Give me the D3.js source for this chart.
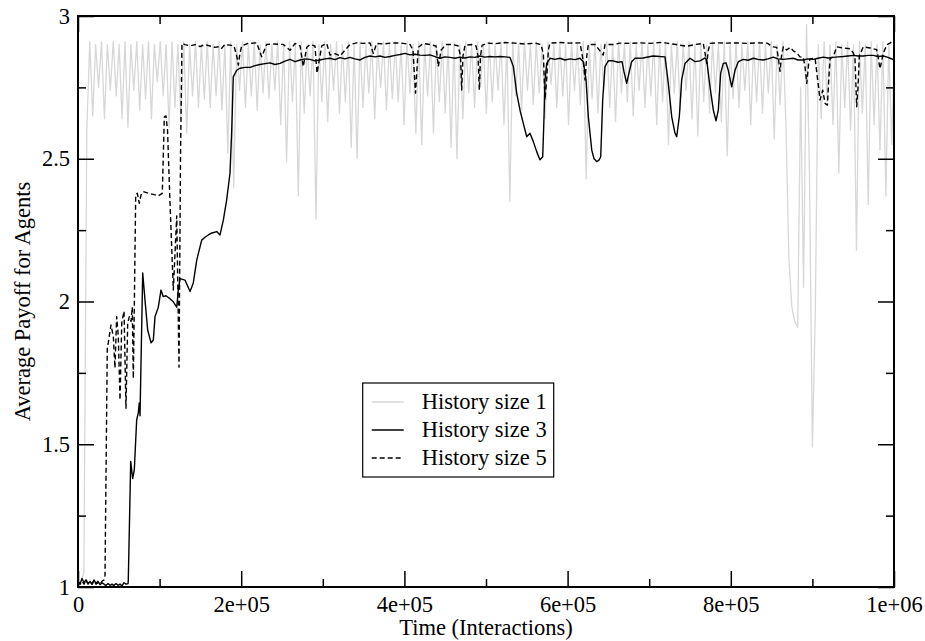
<!DOCTYPE html>
<html>
<head>
<meta charset="utf-8">
<script src="https://cdn.jsdelivr.net/npm/d3@7"></script>
<style>
  body { margin: 0; background: white; }
  text { font-family: "Liberation Serif", "Times New Roman", serif; fill: black; }
</style>
</head>
<body>
<svg width="925" height="641"></svg>
<script>
// history size 1: sampled every 3600 interactions
const h1Step = 3600;
const h1Payoff = [
  1.0, 1.02, 1.05, 2.6, 2.91, 2.65, 2.9, 2.75, 2.91, 2.64,
  2.9, 2.74, 2.91, 2.72, 2.9, 2.64, 2.91, 2.61, 2.9, 2.74,
  2.91, 2.67, 2.9, 2.71, 2.91, 2.64, 2.9, 2.77, 2.91, 2.72,
  2.9, 2.61, 2.91, 2.68, 2.9, 2.64, 2.91, 2.59, 2.9, 2.72,
  2.91, 2.68, 2.9, 2.71, 2.91, 2.68, 2.9, 2.72, 2.91, 2.67,
  2.9, 2.52, 2.91, 2.40, 2.9, 2.74, 2.91, 2.68, 2.9, 2.72,
  2.91, 2.67, 2.9, 2.73, 2.91, 2.71, 2.9, 2.74, 2.91, 2.62,
  2.9, 2.49, 2.91, 2.7, 2.9, 2.37, 2.91, 2.66, 2.9, 2.72,
  2.91, 2.29, 2.9, 2.7, 2.91, 2.63, 2.9, 2.74, 2.91, 2.66,
  2.9, 2.7, 2.91, 2.54, 2.9, 2.5, 2.91, 2.68, 2.9, 2.73,
  2.91, 2.64, 2.9, 2.75, 2.91, 2.67, 2.9, 2.71, 2.91, 2.7,
  2.9, 2.62, 2.91, 2.73, 2.9, 2.59, 2.91, 2.55, 2.9, 2.72,
  2.91, 2.59, 2.9, 2.7, 2.91, 2.66, 2.9, 2.54, 2.91, 2.5,
  2.9, 2.64, 2.91, 2.73, 2.9, 2.68, 2.91, 2.75, 2.9, 2.66,
  2.91, 2.7, 2.9, 2.74, 2.91, 2.62, 2.9, 2.35, 2.91, 2.72,
  2.9, 2.67, 2.91, 2.74, 2.9, 2.69, 2.91, 2.73, 2.9, 2.64,
  2.91, 2.76, 2.9, 2.68, 2.91, 2.72, 2.9, 2.62, 2.91, 2.74,
  2.9, 2.69, 2.91, 2.43, 2.9, 2.71, 2.91, 2.66, 2.9, 2.74,
  2.91, 2.68, 2.9, 2.63, 2.91, 2.73, 2.9, 2.7, 2.91, 2.65,
  2.9, 2.74, 2.91, 2.68, 2.9, 2.72, 2.91, 2.62, 2.9, 2.7,
  2.91, 2.55, 2.9, 2.73, 2.91, 2.67, 2.9, 2.74, 2.91, 2.64,
  2.9, 2.58, 2.91, 2.7, 2.9, 2.66, 2.91, 2.73, 2.9, 2.63,
  2.91, 2.51, 2.9, 2.71, 2.91, 2.68, 2.9, 2.74, 2.91, 2.62,
  2.9, 2.7, 2.91, 2.66, 2.9, 2.73, 2.91, 2.57, 2.9, 2.69,
  2.91, 2.62, 2.15, 1.98, 1.93, 1.91, 2.75, 2.05, 2.97, 2.45,
  1.49, 1.97, 2.9, 2.64, 2.91, 2.7, 2.9, 2.62, 2.91, 2.45,
  2.9, 2.68, 2.91, 2.6, 2.9, 2.18, 2.91, 2.66, 2.9, 2.34,
  2.91, 2.62, 2.9, 2.53, 2.91, 2.37, 2.9, 2.55, 2.91
];

// history size 3: [time in thousands of interactions, payoff]
const h3 = [
  [0,1.02],[2.5,1.01],[4.9,1.03],[7.4,1.015],[9.8,1.025],[12.3,1.01],[14.7,1.02],[17.2,1.01],[19.6,1.025],[22.1,1.012],
  [24.5,1.02],[27,1.008],[29.4,1.015],[31.9,1.01],[34.3,1.005],[36.8,1.012],[39.2,1.006],[41.7,1.01],[44.1,1.005],[46.6,1.012],
  [49,1.006],[51.5,1.01],[53.9,1.004],[56.4,1.015],[58.8,1.01],[61.3,1.012],[61.6,1.02],[64.6,1.44],[67,1.38],[69,1.41],
  [71.9,1.585],[73.9,1.61],[75.1,1.645],[76,1.6],[79.3,2.1],[82.1,2.005],[85.4,1.9],[89.5,1.855],[92.3,1.865],[94.4,1.947],
  [98.4,1.98],[101.7,2.04],[104.5,2.017],[107.8,2.02],[112.7,2.01],[116.8,1.999],[121,1.98],[122.9,2.04],[125,2.08],[131.1,2.075],
  [137.3,2.035],[141.3,2.065],[145.5,2.145],[151.6,2.215],[155.6,2.225],[159.7,2.233],[164.2,2.24],[170,2.245],[174,2.233],[178.1,2.285],
  [182.2,2.356],[186.3,2.45],[188.4,2.6],[190.3,2.787],[194.5,2.81],[198.5,2.817],[204.7,2.82],[210.8,2.82],[216.9,2.826],[223,2.83],
  [229.2,2.833],[235.3,2.836],[241.4,2.83],[247.6,2.834],[253.7,2.842],[259.8,2.848],[266,2.84],[272.1,2.846],[278.2,2.85],[284.3,2.848],
  [290.4,2.843],[296.6,2.846],[302.7,2.85],[308.8,2.852],[314.9,2.847],[321.1,2.854],[327.2,2.85],[333.3,2.855],[339.5,2.85],[345.6,2.846],
  [351.7,2.855],[357.8,2.86],[364,2.857],[370.1,2.86],[376.2,2.855],[382.4,2.858],[388.5,2.862],[394.6,2.865],[400.7,2.869],[406.9,2.864],
  [413,2.866],[419.1,2.863],[425.2,2.862],[431.4,2.864],[437.5,2.858],[443.6,2.852],[449.8,2.857],[455.9,2.855],[462,2.852],[468.1,2.856],
  [474.3,2.853],[480.4,2.857],[486.5,2.855],[492.7,2.86],[498.8,2.856],[504.9,2.858],[511,2.857],[517.2,2.858],[523.3,2.857],[529.4,2.855],
  [533.5,2.823],[537.6,2.73],[541.7,2.67],[545.7,2.624],[549.9,2.577],[553.9,2.589],[558,2.56],[562.1,2.525],[566.2,2.496],[569.5,2.507],
  [571.1,2.647],[572.3,2.776],[574.4,2.834],[578.4,2.852],[584.6,2.848],[590.7,2.852],[596.8,2.846],[602.9,2.85],[609.1,2.847],[615.2,2.852],
  [619.3,2.84],[622.6,2.776],[625.4,2.647],[629.6,2.53],[632.4,2.5],[635.7,2.49],[638.5,2.495],[640.6,2.507],[643,2.706],[645.8,2.823],
  [649.9,2.843],[655.6,2.843],[661.8,2.838],[666.7,2.84],[669.1,2.805],[672.4,2.764],[675.6,2.805],[678.5,2.84],[682.6,2.852],[692.4,2.853],
  [704.7,2.86],[713.2,2.858],[719.4,2.857],[723.4,2.764],[727.6,2.647],[731.6,2.59],[733.7,2.577],[736.9,2.647],[739.8,2.776],[743.9,2.834],
  [750,2.852],[756.1,2.84],[762.3,2.843],[768.4,2.853],[770.5,2.846],[774.5,2.752],[778.6,2.67],[781.9,2.633],[784.7,2.67],[787.6,2.8],
  [790.8,2.834],[794.1,2.836],[796.9,2.81],[801.1,2.752],[805.2,2.81],[809.2,2.84],[815.3,2.848],[821.1,2.845],[827.6,2.852],[833.3,2.848],
  [839.8,2.846],[845.6,2.85],[852.1,2.856],[857.9,2.85],[864.4,2.848],[870.1,2.85],[876.6,2.852],[882.4,2.846],[888.9,2.846],[894.6,2.85],
  [901.1,2.848],[906.9,2.852],[913.4,2.856],[919.1,2.853],[925.6,2.855],[931.4,2.857],[937.9,2.858],[943.6,2.86],[950.1,2.862],[955.9,2.86],
  [962.4,2.86],[968.1,2.862],[974.6,2.862],[980.4,2.858],[986.9,2.86],[992.6,2.855],[995.1,2.852],[1000,2.846]
];

// history size 5: [time in thousands of interactions, payoff]
const h5 = [
  [0,1.02],[2.5,1.01],[4.9,1.02],[7.4,1.01],[9.8,1.025],[12.3,1.012],[14.7,1.02],[17.2,1.01],[19.6,1.022],[22.1,1.01],
  [24.5,1.015],[27,1.01],[29.4,1.02],[31.9,1.025],[33.1,1.04],[35.9,1.84],[37.1,1.855],[40.4,1.918],[43.3,1.877],[45.3,1.767],
  [47.4,1.947],[49.4,1.877],[51.5,1.655],[53.6,1.925],[56.4,1.966],[58.8,1.626],[60.9,1.925],[62.9,1.947],[65,1.93],[66.5,1.98],
  [67.8,1.73],[69,1.98],[70.7,2.373],[72.7,2.379],[75.1,2.344],[77.2,2.373],[80,2.385],[86.2,2.379],[92.3,2.375],[98.4,2.37],
  [103.3,2.379],[105.8,2.647],[107.8,2.65],[109.7,2.6],[112.7,2.35],[116.8,2.04],[121,2.3],[123.8,1.77],[125.6,2.5],[127.4,2.904],
  [131.1,2.9],[137.3,2.895],[143.4,2.9],[149.5,2.893],[155.6,2.9],[161.8,2.895],[167.9,2.89],[174,2.893],[176.1,2.887],[180.1,2.9],
  [186.3,2.898],[191.2,2.895],[194.5,2.86],[196.5,2.828],[198.5,2.87],[200.6,2.895],[208.3,2.904],[219,2.906],[225.1,2.857],[231.2,2.9],
  [241.4,2.902],[251.6,2.9],[259.8,2.88],[266,2.904],[272.1,2.895],[276.1,2.823],[280.3,2.89],[284.3,2.9],[290.4,2.895],[292.9,2.8],
  [298.7,2.895],[304.8,2.904],[308.8,2.863],[314.9,2.868],[321.1,2.86],[327.2,2.88],[333.3,2.9],[341.6,2.906],[349.7,2.904],[357.8,2.906],
  [361.9,2.869],[366,2.904],[374.1,2.902],[382.4,2.905],[390.6,2.906],[398.7,2.904],[406.9,2.9],[410.5,2.88],[413.6,2.73],[417,2.89],
  [423.1,2.904],[431.4,2.9],[438.7,2.895],[441.6,2.823],[444.9,2.88],[451,2.9],[458.3,2.9],[465.7,2.896],[468.8,2.86],[470.2,2.741],
  [471.8,2.86],[474.3,2.898],[482.5,2.9],[487.8,2.895],[490.2,2.86],[491.8,2.741],[493.3,2.86],[495.1,2.897],[501.2,2.905],[511,2.903],
  [523.3,2.907],[535.5,2.905],[547.8,2.902],[560.1,2.905],[567.4,2.9],[570.3,2.867],[572.3,2.706],[574.4,2.78],[576.4,2.88],[578.4,2.905],
  [590.7,2.907],[602.9,2.905],[615.2,2.906],[619.3,2.84],[621.4,2.776],[623.5,2.86],[625.4,2.9],[633.7,2.9],[643.7,2.863],[645.8,2.9],
  [656,2.9],[664.2,2.905],[676.5,2.904],[688.7,2.906],[701,2.904],[713.2,2.907],[721.8,2.905],[732.8,2.9],[745.9,2.894],[756.1,2.9],
  [766.3,2.904],[768.4,2.87],[770.5,2.834],[772.5,2.88],[774.5,2.904],[783.1,2.906],[795.4,2.905],[807.6,2.906],[819.9,2.904],[832.1,2.906],
  [844.4,2.905],[852.1,2.892],[856.2,2.89],[858.4,2.85],[860.3,2.806],[862.1,2.86],[864.4,2.892],[868.5,2.881],[872.6,2.89],[876.6,2.878],
  [881.1,2.87],[884.8,2.857],[888.9,2.855],[891,2.82],[893.1,2.764],[895.3,2.83],[897.1,2.85],[903.3,2.852],[906.3,2.78],[909.4,2.706],
  [912.7,2.74],[915.5,2.694],[918.4,2.688],[920.5,2.8],[921.7,2.85],[925.8,2.86],[929.9,2.892],[938,2.888],[946.2,2.885],[950.3,2.87],
  [952.2,2.85],[954.3,2.682],[955.9,2.75],[957.5,2.86],[962.4,2.892],[970.6,2.888],[978.8,2.882],[981,2.85],[982.8,2.815],[984.7,2.84],
  [986.9,2.87],[991.4,2.9],[995.1,2.905],[1000,2.916]
];

const xMajor = [0, 2e5, 4e5, 6e5, 8e5, 1e6];
const xMinor = [1e5, 3e5, 5e5, 7e5, 9e5];
const yMajor = [1, 1.5, 2, 2.5, 3];
const yMinor = [1.25, 1.75, 2.25, 2.75];

const seriesNames = ["History size 1", "History size 3", "History size 5"];

const svg = d3.select("svg");
const margin = {left: 78, right: 31, top: 16, bottom: 54};
const width = 925 - margin.left - margin.right,
      height = 641 - margin.top - margin.bottom;

const x = d3.scaleLinear().domain([0, 1e6]).range([0, width]);
const y = d3.scaleLinear().domain([1, 3]).range([height, 0]);

const g = svg.append("g")
  .attr("transform", `translate(${margin.left},${margin.top})`);

g.append("clipPath").attr("id", "plotclip")
  .append("rect").attr("width", width).attr("height", height);

const h1Data = h1Payoff.map((v, i) => [i * h1Step, v]);
const h3Data = h3.map(d => [d[0] * 1000, d[1]]);
const h5Data = h5.map(d => [d[0] * 1000, d[1]]);

const line = d3.line()
  .x(d => x(d[0]))
  .y(d => y(d[1]));

const styles = [
  {color: "#d7d7d7", width: 1.3, dash: null},
  {color: "black", width: 1.4, dash: null},
  {color: "black", width: 1.4, dash: "5,3"}
];

const lines = g.append("g").attr("clip-path", "url(#plotclip)");
[h1Data, h3Data, h5Data].forEach((data, i) => {
  lines.append("path")
    .datum(data)
    .attr("fill", "none")
    .attr("stroke", styles[i].color)
    .attr("stroke-width", styles[i].width)
    .attr("stroke-dasharray", styles[i].dash)
    .attr("stroke-linejoin", "round")
    .attr("d", line);
});

function sciFormat(t) {
  if (t === 0) return "0";
  const e = Math.floor(Math.log10(t));
  const m = Math.round(t / Math.pow(10, e));
  return m + "e+" + String(e).padStart(2, "0");
}

function styleAxis(sel) {
  sel.select(".domain").remove();
  sel.selectAll(".tick line").attr("stroke", "black").attr("stroke-width", 1.5);
  sel.selectAll("text").attr("font-size", "22.5px").attr("font-family", "Liberation Serif, Times New Roman, serif");
}

// bottom
g.append("g").attr("transform", `translate(0,${height})`)
  .call(d3.axisBottom(x).tickValues(xMajor).tickSize(-16).tickPadding(9).tickFormat(sciFormat))
  .call(styleAxis);
g.append("g").attr("transform", `translate(0,${height})`)
  .call(d3.axisBottom(x).tickValues(xMinor).tickSize(-8).tickFormat(""))
  .call(styleAxis);
// top
g.append("g")
  .call(d3.axisTop(x).tickValues(xMajor).tickSize(-16).tickFormat(""))
  .call(styleAxis);
g.append("g")
  .call(d3.axisTop(x).tickValues(xMinor).tickSize(-8).tickFormat(""))
  .call(styleAxis);
// left
g.append("g")
  .call(d3.axisLeft(y).tickValues(yMajor).tickSize(-16).tickPadding(8).tickFormat(d3.format("")))
  .call(styleAxis);
g.append("g")
  .call(d3.axisLeft(y).tickValues(yMinor).tickSize(-8).tickFormat(""))
  .call(styleAxis);
// right
g.append("g").attr("transform", `translate(${width},0)`)
  .call(d3.axisRight(y).tickValues(yMajor).tickSize(-16).tickFormat(""))
  .call(styleAxis);
g.append("g").attr("transform", `translate(${width},0)`)
  .call(d3.axisRight(y).tickValues(yMinor).tickSize(-8).tickFormat(""))
  .call(styleAxis);

g.append("rect")
  .attr("width", width)
  .attr("height", height)
  .attr("fill", "none")
  .attr("stroke", "black")
  .attr("stroke-width", 2);

// axis titles
g.append("text")
  .attr("x", width / 2)
  .attr("y", height + 48)
  .attr("text-anchor", "middle")
  .attr("font-size", "22.5px")
  .text("Time (Interactions)");

g.append("text")
  .attr("transform", `translate(${-48},${height / 2}) rotate(-90)`)
  .attr("text-anchor", "middle")
  .attr("font-size", "22.5px")
  .text("Average Payoff for Agents");

// legend
const legend = g.append("g")
  .attr("transform", `translate(${x(charX(362.7))},${367})`);

function charX(px) { return (px - margin.left) / width * 1e6; }

legend.append("rect")
  .attr("width", 191)
  .attr("height", 94)
  .attr("fill", "white")
  .attr("stroke", "black")
  .attr("stroke-width", 1.2);

seriesNames.forEach((name, i) => {
  const row = legend.append("g").attr("transform", `translate(0,${19 + i * 28})`);
  row.append("line")
    .attr("x1", 9).attr("x2", 41)
    .attr("stroke", styles[i].color)
    .attr("stroke-width", styles[i].width)
    .attr("stroke-dasharray", styles[i].dash);
  row.append("text")
    .attr("x", 59)
    .attr("dy", "0.33em")
    .attr("font-size", "22.5px")
    .text(name);
});
</script>
</body>
</html>
